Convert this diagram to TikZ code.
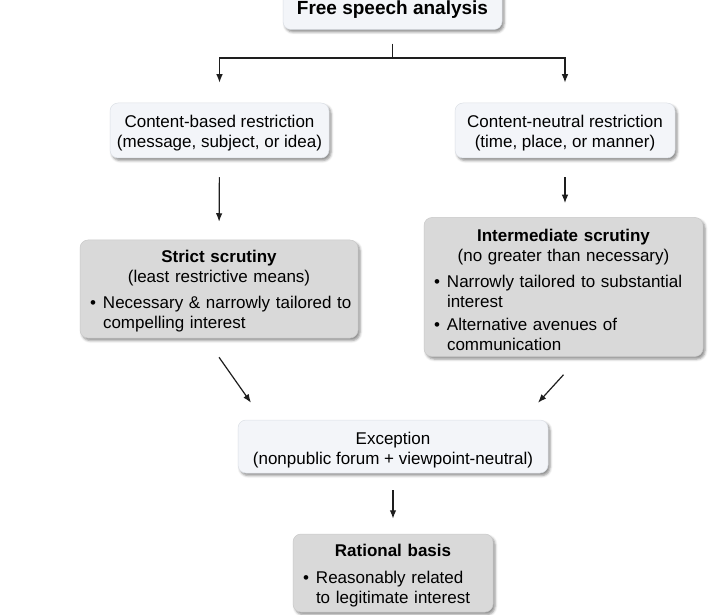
\documentclass[tikz,border=0pt]{standalone}
\usepackage{fontspec}
\setmainfont{Liberation Sans}
\usetikzlibrary{arrows.meta,shadows.blur}

\definecolor{boxlight}{HTML}{F3F5F9}
\definecolor{boxlightline}{HTML}{DCE0E6}
\definecolor{boxgray}{HTML}{D9D9D9}
\definecolor{boxgrayline}{HTML}{C9C9C9}
\definecolor{arrowgray}{HTML}{1E1E1E}

% one bullet point, left aligned, lines given with \\
\newcommand{\bul}[2][5pt]{\par\vspace{#1}\raggedright\noindent
  \makebox[13pt][l]{\textbullet}\begin{tabular}[t]{@{}l@{}}#2\end{tabular}\par}
% pushes the text of a box down
\newcommand{\lift}[1]{\rule{0pt}{#1}}

\begin{document}
\begin{tikzpicture}[x=1pt,y=-1pt,
    every node/.style={font=\fontsize{17}{20}\selectfont},
    lightbox/.style={rounded corners=8pt, fill=boxlight, draw=boxlightline,
        line width=0.5pt, align=center, inner sep=0pt,
        blur shadow={shadow xshift=2pt, shadow yshift=-2.5pt,
            shadow blur radius=2.5pt, shadow opacity=45}},
    graybox/.style={lightbox, fill=boxgray, draw=boxgrayline,
        inner xsep=10pt},
    arr/.style={-{Latex[length=8.5pt,width=6.5pt]}, line width=1.2pt, draw=arrowgray},
    stem/.style={line width=1.2pt, draw=arrowgray}]
    \useasboundingbox (0,0) rectangle (713,615);
    \clip (0,0) rectangle (713,615);

    % boxes
    \node[lightbox, minimum width=219pt, minimum height=40pt,
        font=\fontsize{19}{22}\selectfont\bfseries] (top) at (392.5,9.5) {Free speech analysis};

    \node[lightbox, minimum width=219pt, minimum height=55pt] (based) at (219.5,130.5)
        {\lift{18.5pt}Content-based restriction\\(message, subject, or idea)};
    \node[lightbox, minimum width=220pt, minimum height=55pt] (neutral) at (565,130.5)
        {\lift{18.5pt}Content-neutral restriction\\(time, place, or manner)};

    \node[graybox, text width=258pt, minimum height=98pt] (strict) at (219,289)
        {\lift{18.5pt}\textbf{Strict scrutiny}\\(least restrictive means)
         \bul[6pt]{Necessary \& narrowly tailored to\\compelling interest}};
    \node[graybox, text width=259pt, minimum height=138pt] (inter) at (563.5,287)
        {\lift{24pt}\textbf{Intermediate scrutiny}\\(no greater than necessary)
         \bul[6pt]{Narrowly tailored to substantial\\interest}
         \bul[2pt]{Alternative avenues of\\communication}};

    \node[lightbox, minimum width=310pt, minimum height=53pt] (except) at (393,446.5)
        {\lift{19.5pt}Exception\\(nonpublic forum + viewpoint-neutral)};

    \node[graybox, text width=180pt, minimum height=78pt] (rational) at (393,573)
        {\lift{20.5pt}\textbf{Rational basis}
         \bul[7pt]{Reasonably related\\to legitimate interest}};

    % connectors
    \coordinate (fork) at (392.5,58);
    \draw[stem, shorten <=14pt] (top.south) -- (fork);
    \draw[arr, shorten >=20pt] (fork) -| (based.north);
    \draw[arr, shorten >=20pt] (fork) -| (neutral.north);

    \draw[arr, shorten <=19pt, shorten >=18pt] (based.south) -- (strict.north);
    \draw[arr, shorten <=19pt, shorten >=14pt] (neutral.south) -- (neutral.south |- inter.north);

    \draw[arr] ([yshift=-19pt]strict.south) -- ([xshift=-142pt,yshift=17pt]except.north);
    \draw[arr] ([yshift=-18pt]inter.south) -- ([xshift=145pt,yshift=17pt]except.north);

    \draw[arr, shorten <=17pt, shorten >=15pt] (except.south) -- (rational.north);
\end{tikzpicture}
\end{document}
